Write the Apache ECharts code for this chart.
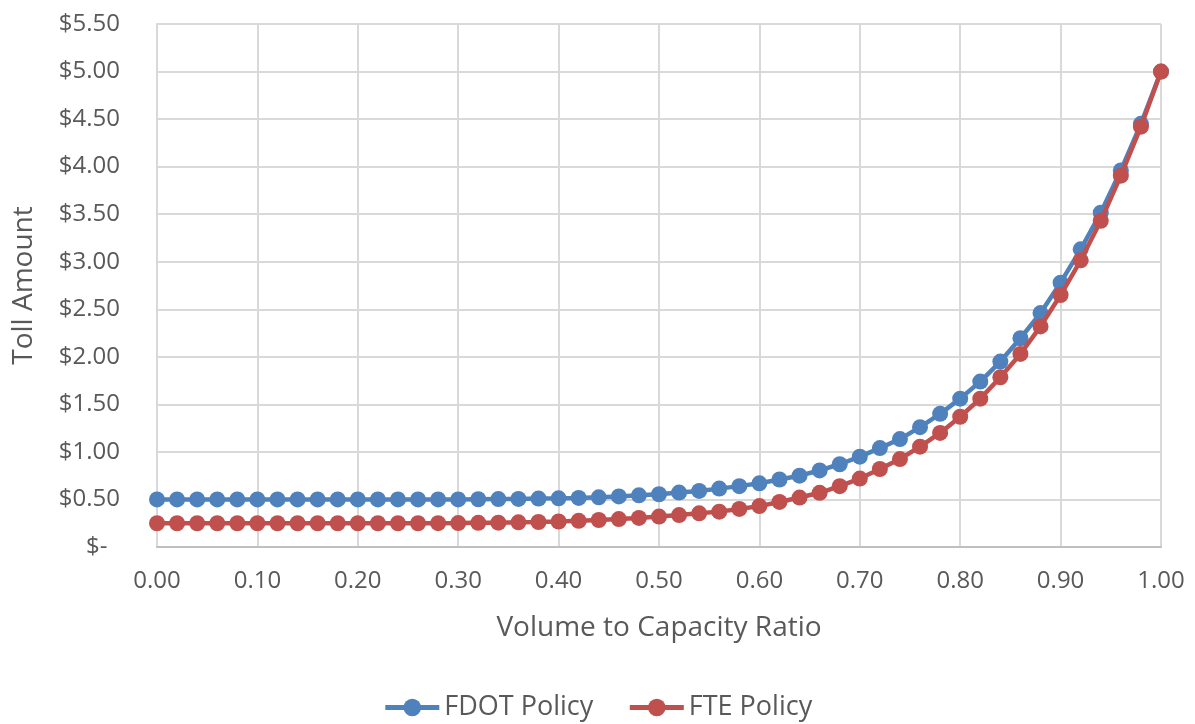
<!DOCTYPE html>
<html>
<head>
<meta charset="utf-8">
<script src="https://cdn.jsdelivr.net/npm/echarts@6/dist/echarts.min.js"></script>
<style>
html,body{margin:0;padding:0;background:#fff;}
#chart{width:1195px;height:724px;}
</style>
</head>
<body>
<div id="chart"></div>
<script>
const ratios = [0.00,0.02,0.04,0.06,0.08,0.10,0.12,0.14,0.16,0.18,0.20,0.22,0.24,0.26,0.28,0.30,0.32,0.34,0.36,0.38,0.40,0.42,0.44,0.46,0.48,0.50,0.52,0.54,0.56,0.58,0.60,0.62,0.64,0.66,0.68,0.70,0.72,0.74,0.76,0.78,0.80,0.82,0.84,0.86,0.88,0.90,0.92,0.94,0.96,0.98,1.00];
const fdotPolicy = [0.50,0.50,0.50,0.50,0.50,0.50,0.50,0.50,0.50,0.50,0.50,0.50,0.50,0.50,0.50,0.50,0.502,0.504,0.506,0.509,0.512,0.516,0.522,0.532,0.543,0.555,0.572,0.590,0.614,0.640,0.670,0.710,0.750,0.805,0.870,0.950,1.040,1.135,1.260,1.400,1.560,1.740,1.950,2.195,2.460,2.780,3.130,3.515,3.960,4.450,5.00];
const ftePolicy = [0.25,0.25,0.25,0.25,0.25,0.25,0.25,0.25,0.25,0.25,0.25,0.25,0.25,0.25,0.251,0.252,0.254,0.256,0.259,0.263,0.268,0.275,0.284,0.294,0.306,0.320,0.336,0.354,0.372,0.400,0.430,0.474,0.520,0.570,0.640,0.720,0.820,0.925,1.055,1.200,1.370,1.560,1.785,2.030,2.320,2.650,3.015,3.430,3.905,4.420,5.00];
const seriesNames = ['FDOT Policy','FTE Policy'];
const colors = ['#4f81bd','#c0504d'];
const xTitle = 'Volume to Capacity Ratio';
const yTitle = 'Toll Amount';

const chart = echarts.init(document.getElementById('chart'));
const font = '"Open Sans", "Liberation Sans", sans-serif';
const txt = '#595959';
function pts(vals){ return ratios.map((r,i)=>[r, vals[i]]); }
chart.setOption({
  animation:false,
  grid:{left:157,right:34,top:24,bottom:177,containLabel:false},
  legend:{
    bottom:-2,left:'center',
    itemWidth:54,itemHeight:22,itemGap:34,
    lineStyle:{width:5},
    textStyle:{fontFamily:font,fontSize:27,color:txt},
    data:seriesNames
  },
  xAxis:{
    type:'value',min:0,max:1,interval:0.1,
    name:xTitle,nameLocation:'middle',nameGap:67,
    nameTextStyle:{fontFamily:font,fontSize:28,color:txt},
    axisLine:{show:true,lineStyle:{color:'#bfbfbf',width:2}},
    axisTick:{show:false},
    axisLabel:{fontFamily:font,fontSize:24,color:txt,margin:22,formatter:v=>v.toFixed(2)},
    splitLine:{show:true,lineStyle:{color:'#d9d9d9',width:2}}
  },
  yAxis:{
    type:'value',min:0,max:5.5,interval:0.5,
    name:yTitle,nameLocation:'middle',nameGap:119,nameRotate:90,
    nameTextStyle:{fontFamily:font,fontSize:28,color:txt},
    axisLine:{show:true,lineStyle:{color:'#d9d9d9',width:2}},
    axisTick:{show:false},
    axisLabel:{fontFamily:font,fontSize:24,color:txt,margin:37,
      formatter:v=> v===0 ? '$-  ' : '$'+v.toFixed(2)},
    splitLine:{show:true,lineStyle:{color:'#d9d9d9',width:2}}
  },
  series:seriesNames.map((n,k)=>({
    name:n,type:'line',
    data:pts(k===0?fdotPolicy:ftePolicy),
    symbol:'circle',symbolSize:16,
    lineStyle:{color:colors[k],width:4.5},
    itemStyle:{color:colors[k]},
    z:k+2
  }))
});
</script>
</body>
</html>
